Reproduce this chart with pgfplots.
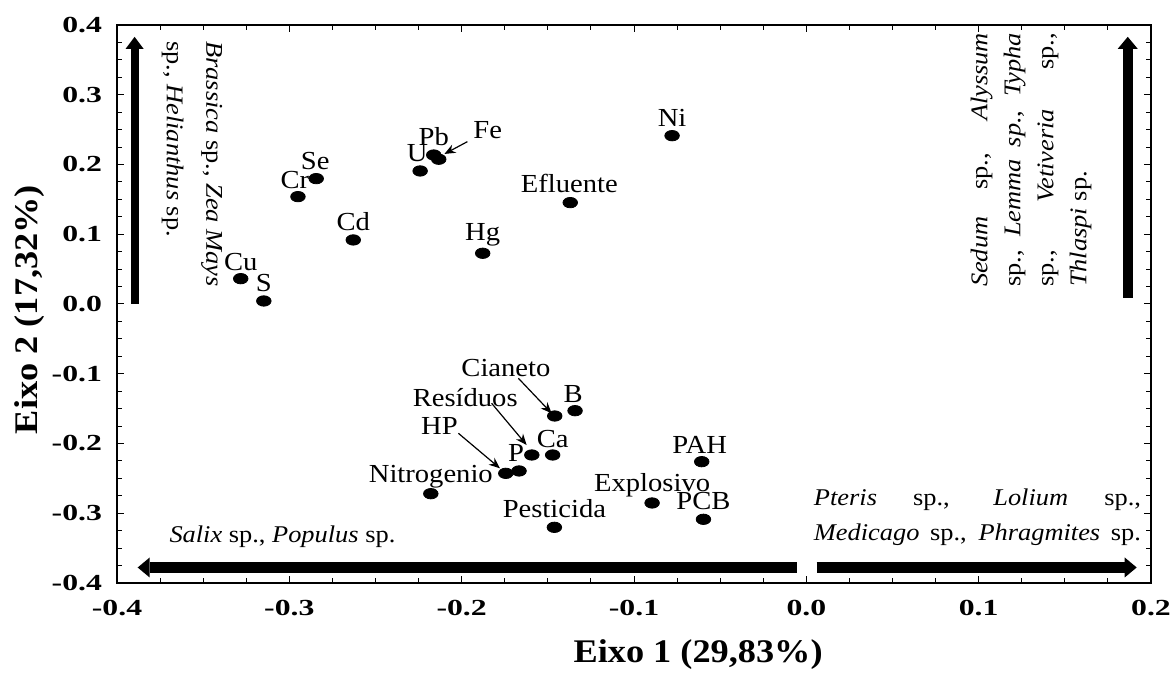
\documentclass[border=0pt]{standalone}
\usepackage{fontspec}
\setmainfont{Liberation Serif}[FakeStretch=1.1]
\newfontfamily\tickfont{Liberation Serif}[FakeStretch=1.38]
\usepackage{pgfplots}
\usepackage{pgfplotstable}
\pgfplotsset{compat=1.18}
\usetikzlibrary{arrows.meta}

% scores on the two axes; dx dy = label offset in pt
\pgfplotstableread{
x y dx dy label
-0.3282 0.0363 0 8.5 Cu
-0.3148 0.0043 0 9 S
-0.2950 0.1539 -1.5 8.5 Cr
-0.2844 0.1797 -0.5 9 Se
-0.2629 0.0918 0 9 Cd
-0.2241 0.1907 -1.5 8.9 U
-0.2162 0.2136 0 9 Pb
-0.2133 0.2075 24.5 14.7 Fe
-0.1878 0.0727 0 9 Hg
-0.1370 0.1453 -0.5 9.5 Efluente
-0.0779 0.2413 0 8.7 Ni
-0.1460 -0.1606 -24.4 23.8 Cianeto
-0.1342 -0.1530 -1 8.5 B
-0.1593 -0.2165 -33.3 28.8 Resíduos
-0.1472 -0.2165 0 8 Ca
-0.1667 -0.2394 -1.5 9 P
-0.1744 -0.2428 -33.2 23.7 HP
-0.2179 -0.2720 0 8.5 Nitrogenio
-0.1462 -0.3202 0 9.5 Pesticida
-0.0895 -0.2853 0 9 Explosivo
-0.0607 -0.2261 -1 8.5 PAH
-0.0597 -0.3087 0 9 PCB
}\pcadata

\begin{document}
\begin{tikzpicture}
\begin{axis}[
  scale only axis, width=517pt, height=279pt,
  xmin=-0.4, xmax=0.2, ymin=-0.4, ymax=0.4,
  xtick={-0.4,-0.3,-0.2,-0.1,0,0.1,0.2},
  ytick={-0.4,-0.3,-0.2,-0.1,0,0.1,0.2,0.3,0.4},
  minor x tick num=3, minor y tick num=3,
  major tick length=3.5pt, minor tick length=2.5pt,
  tick style={black, line width=0.5pt},
  axis line style={line width=0.8pt},
  clip=false,
  /pgf/number format/assume math mode=true,
  /pgf/number format/fixed,
  /pgf/number format/fixed zerofill,
  /pgf/number format/precision=1,
  ticklabel style={font=\tickfont\bfseries\fontsize{11.5}{13}\selectfont},
  yticklabel style={xshift=-4pt},
  xticklabel style={yshift=-5pt},
  xlabel={Eixo 1 (29,83\%)},
  ylabel={Eixo 2 (17,32\%)},
  xlabel style={font=\bfseries\fontsize{16.5}{18}\selectfont, at={(axis description cs:0.562,-0.129)}, anchor=center},
  ylabel style={font=\bfseries\fontsize{16.5}{18}\selectfont, at={(axis description cs:-0.0841,0.49)}, anchor=center},
]
\coordinate (sw) at (rel axis cs:0,0);
\coordinate (ne) at (rel axis cs:1,1);

\addplot[only marks, mark=*, mark size=2.6pt, mark options={black, xscale=1.4},
  nodes near coords, point meta=explicit symbolic,
  visualization depends on={\thisrow{dx}\as\dx},
  visualization depends on={\thisrow{dy}\as\dy},
  every node near coord/.append style={anchor=center, xshift=\dx pt, yshift=\dy pt,
    font=\fontsize{13}{15}\selectfont, inner sep=0pt}]
  table[x=x, y=y, meta=label] {\pcadata};

% pointer arrows for crowded labels
\draw[line width=0.6pt, -{Stealth[length=5.5pt,width=4.5pt]}] (axis cs:-0.1967,0.2327) -- (axis cs:-0.2100,0.2151);
\draw[line width=0.6pt, -{Stealth[length=5.5pt,width=4.5pt]}] (axis cs:-0.1671,-0.1065) -- (axis cs:-0.1478,-0.1567);
\draw[line width=0.6pt, -{Stealth[length=5.5pt,width=4.5pt]}] (axis cs:-0.1826,-0.1424) -- (axis cs:-0.1623,-0.2022);
\draw[line width=0.6pt, -{Stealth[length=5.5pt,width=4.5pt]}] (axis cs:-0.2019,-0.1854) -- (axis cs:-0.1778,-0.2356);

% big direction arrows
\draw[line width=4pt, -{Triangle[length=6pt,width=9pt,line width=0pt]}] (axis cs:-0.3898,0) -- (axis cs:-0.3898,0.383);
\draw[line width=5pt, -{Triangle[length=6pt,width=10pt,line width=0pt]}] (axis cs:0.1865,0.0086) -- (axis cs:0.1865,0.383);
\draw[line width=5.8pt, -{Triangle[length=6pt,width=10pt,line width=0pt]}] (axis cs:-0.0056,-0.3778) -- (axis cs:-0.388,-0.3778);
\draw[line width=5.8pt, -{Triangle[length=6pt,width=10pt,line width=0pt]}] (axis cs:0.006,-0.3778) -- (axis cs:0.1917,-0.3778);

% species groups
\node[rotate=-90, align=left, font=\fontsize{12}{19.7}\selectfont, inner sep=0pt]
  at (axis cs:-0.3565,0.2007) {\textit{Brassica} sp., \textit{Zea Mays}\\sp., \textit{Helianthus} sp.};
\node[rotate=90, align=left, font=\fontsize{12}{16.5}\selectfont, inner sep=0pt]
  at (axis cs:0.1304,0.2065) {\makebox[127pt][s]{\textit{Sedum} sp., \textit{Alyssum}}\\
  \makebox[127pt][s]{sp., \textit{Lemma sp.}, \textit{Typha}}\\
  \makebox[127pt][s]{sp., \textit{Vetiveria} sp.,}\\
  \textit{Thlaspi} sp.};
\node[align=left, font=\fontsize{12}{17.5}\selectfont, inner sep=0pt]
  at (axis cs:0.0993,-0.3061) {\makebox[163.5pt][s]{\textit{Pteris} sp., \textit{Lolium} sp.,}\\
  \makebox[163.5pt][s]{\textit{Medicago} sp., \textit{Phragmites} sp.}};
\node[font=\fontsize{12}{14}\selectfont, inner sep=0pt]
  at (axis cs:-0.304,-0.334) {\textit{Salix} sp., \textit{Populus} sp.};
\end{axis}
\pgfresetboundingbox
\path ([shift={(-58.5pt,-45pt)}]sw) rectangle ([shift={(10.5pt,12.5pt)}]ne);
\end{tikzpicture}
\end{document}
